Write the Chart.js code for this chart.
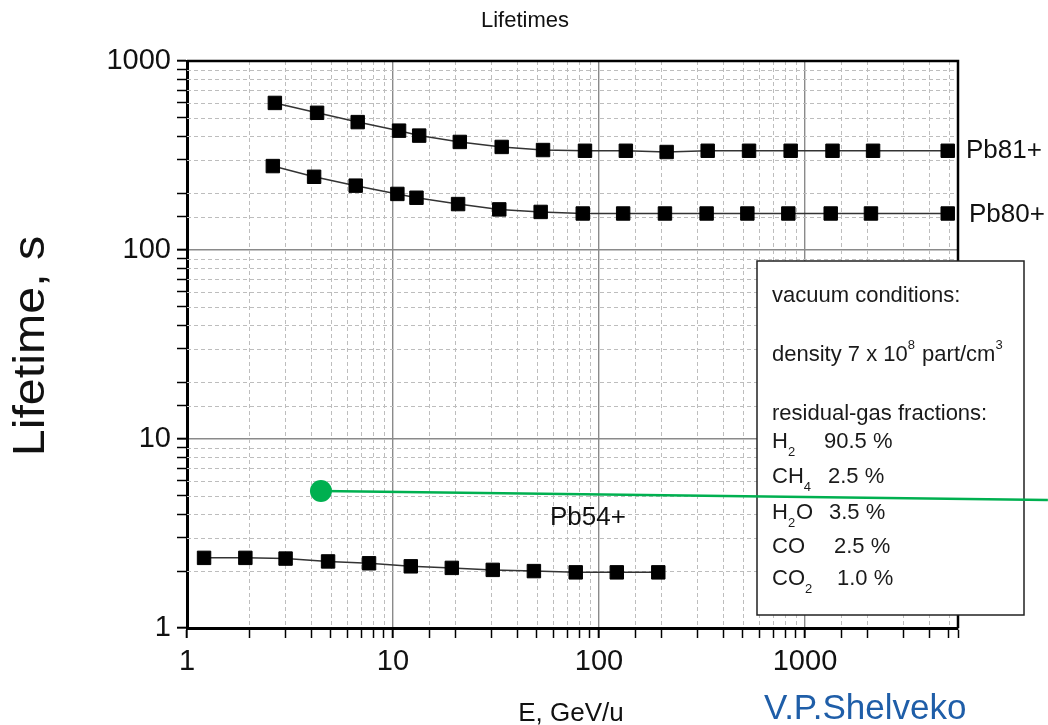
<!DOCTYPE html>
<html>
<head>
<meta charset="utf-8">
<script src="https://cdn.jsdelivr.net/npm/chart.js@4.4.1/dist/chart.umd.min.js"></script>
<style>
  html, body { margin: 0; padding: 0; background: #fff; }
  #wrap { position: relative; width: 1048px; height: 725px; }
</style>
</head>
<body>
<div id="wrap"><canvas id="myChart" width="1048" height="725"></canvas></div>
<script>
// beam energy (GeV/u) and lifetime (s)
const pb81_E = [2.67, 4.28, 6.74, 10.7, 13.4, 21.1, 33.7, 53.5, 85.5, 135, 213, 337, 535, 852, 1360, 2140, 4930];
const pb81_T = [600, 532, 475, 428, 403, 373, 351, 338, 335, 335, 330, 335, 335, 335, 335, 335, 335];

const pb80_E = [2.61, 4.14, 6.59, 10.5, 13.0, 20.7, 32.8, 52.1, 83.4, 131, 209, 333, 525, 830, 1333, 2090, 4930];
const pb80_T = [278, 244, 219, 198, 189, 175, 164, 159, 156, 156, 156, 156, 156, 156, 156, 156, 156];

const pb54_E = [1.21, 1.92, 3.01, 4.84, 7.65, 12.2, 19.3, 30.5, 48.3, 77.1, 122, 194];
const pb54_T = [2.35, 2.35, 2.33, 2.25, 2.20, 2.12, 2.08, 2.03, 2.00, 1.97, 1.97, 1.97];

// green marker + pointer line (second point runs off the canvas)
const mark_E = [4.47, 15100];
const mark_T = [5.31, 4.76];

const seriesNames = ['Pb81+', 'Pb80+', 'Pb54+'];
const xDecades = [1, 10, 100, 1000];
const yDecades = [1, 10, 100, 1000];

const FONT = "'Liberation Sans', Arial, Helvetica, sans-serif";

function pts(xs, ys) {
    return xs.map((x, i) => ({x: x, y: ys[i]}));
}

function isDecade(v) {
    if (!v) return false;
    const l = Math.log10(v);
    return Math.abs(l - Math.round(l)) < 1e-9;
}

function inList(list, v) {
    return list.some(d => Math.abs(d - v) < 1e-6 * d);
}

function txt(ctx, s, x, y, size, opts) {
    opts = opts || {};
    ctx.save();
    ctx.translate(x, y);
    if (opts.rot) ctx.rotate(opts.rot);
    ctx.scale(opts.sx || 1, 1);
    ctx.font = size + 'px ' + FONT;
    ctx.fillStyle = opts.color || '#111';
    ctx.textAlign = opts.align || 'left';
    ctx.textBaseline = 'alphabetic';
    ctx.fillText(s, 0, 0);
    ctx.restore();
}

// text with sub/superscripts, parts: {t, sub, sup, at}
function rich(ctx, x, y, parts) {
    let cx = x;
    ctx.save();
    ctx.fillStyle = '#1a1a1a';
    ctx.textBaseline = 'alphabetic';
    ctx.textAlign = 'left';
    parts.forEach(p => {
        if (p.at !== undefined) cx = p.at;
        const small = p.sub || p.sup;
        ctx.font = (small ? 13 : 22) + 'px ' + FONT;
        const dy = p.sub ? 8 : (p.sup ? -12 : 0);
        ctx.fillText(p.t, cx, y + dy);
        cx += ctx.measureText(p.t).width + (small ? 1 : 0);
    });
    ctx.restore();
}

const boxLines = [
    {y: 302, parts: [{t: 'vacuum conditions:'}]},
    {y: 361, parts: [{t: 'density 7 x 10'}, {t: '8', sup: 1}, {t: ' part/cm'}, {t: '3', sup: 1}]},
    {y: 420, parts: [{t: 'residual-gas fractions:'}]},
    {y: 448, parts: [{t: 'H'}, {t: '2', sub: 1}, {t: '90.5 %', at: 824}]},
    {y: 483, parts: [{t: 'CH'}, {t: '4', sub: 1}, {t: '2.5 %', at: 828}]},
    {y: 519, parts: [{t: 'H'}, {t: '2', sub: 1}, {t: 'O'}, {t: '3.5 %', at: 829}]},
    {y: 553, parts: [{t: 'CO'}, {t: '2.5 %', at: 834}]},
    {y: 585, parts: [{t: 'CO'}, {t: '2', sub: 1}, {t: '1.0 %', at: 837}]}
];

const framePlugin = {
    id: 'frameAndBox',
    beforeDatasetsDraw(chart) {
        const ctx = chart.ctx;
        const a = chart.chartArea;
        const sx = chart.scales.x, sy = chart.scales.y;

        // dashed minor grid
        ctx.save();
        ctx.strokeStyle = '#bdbdbd';
        ctx.lineWidth = 1;
        ctx.setLineDash([4, 3]);
        ctx.beginPath();
        sx.ticks.forEach(t => {
            if (isDecade(t.value)) return;
            const px = Math.round(sx.getPixelForValue(t.value)) + 0.5;
            ctx.moveTo(px, a.top);
            ctx.lineTo(px, a.bottom);
        });
        sy.ticks.forEach(t => {
            if (isDecade(t.value)) return;
            const py = Math.round(sy.getPixelForValue(t.value)) + 0.5;
            ctx.moveTo(a.left, py);
            ctx.lineTo(a.right, py);
        });
        ctx.stroke();
        ctx.setLineDash([]);

        ctx.strokeStyle = '#000';
        ctx.lineWidth = 2.5;
        ctx.beginPath();
        ctx.moveTo(a.left, a.top);
        ctx.lineTo(a.right, a.top);
        ctx.lineTo(a.right, a.bottom);
        ctx.stroke();

        // vacuum conditions box
        ctx.fillStyle = '#fff';
        ctx.fillRect(757, 261, 267, 354);
        ctx.lineWidth = 1.5;
        ctx.strokeStyle = '#222';
        ctx.strokeRect(757, 261, 267, 354);
        ctx.restore();
        boxLines.forEach(l => rich(ctx, 772, l.y, l.parts));
    },
    afterDraw(chart) {
        const ctx = chart.ctx;
        txt(ctx, 'Lifetimes', 525, 27, 22, {align: 'center'});
        txt(ctx, 'Lifetime, s', 44, 346, 44, {align: 'center', rot: -Math.PI / 2, sx: 1.1});
        txt(ctx, 'E, GeV/u', 571, 721, 26, {align: 'center'});
        txt(ctx, 'V.P.Shelveko', 764, 719, 35, {color: '#1f5ea8'});
        txt(ctx, seriesNames[0], 966, 158, 26);
        txt(ctx, seriesNames[1], 969, 222, 26);
        txt(ctx, seriesNames[2], 550, 525, 26);
    }
};

function seriesStyle(name, xs, ys) {
    return {
        label: name,
        data: pts(xs, ys),
        showLine: true,
        borderColor: '#333',
        borderWidth: 1.5,
        pointStyle: 'rect',
        pointRadius: 9.5,
        pointBackgroundColor: '#000',
        pointBorderColor: '#000',
        pointBorderWidth: 1,
        tension: 0
    };
}

const gridOpts = {
    // minor lines are drawn dashed by the plugin
    color: c => isDecade(c.tick && c.tick.value) ? '#8a8a8a' : 'rgba(0,0,0,0)',
    lineWidth: c => isDecade(c.tick && c.tick.value) ? 1.4 : 1,
    tickColor: '#000',
    tickLength: 10,
    tickWidth: c => isDecade(c.tick && c.tick.value) ? 2 : 1.5
};
const borderOpts = {color: '#000', width: 3};

var ctx = document.getElementById('myChart').getContext('2d');
var myChart = new Chart(ctx, {
    type: 'scatter',
    data: {
        datasets: [
            seriesStyle(seriesNames[0], pb81_E, pb81_T),
            seriesStyle(seriesNames[1], pb80_E, pb80_T),
            seriesStyle(seriesNames[2], pb54_E, pb54_T),
            {
                label: 'marker',
                data: pts(mark_E, mark_T),
                showLine: true,
                borderColor: '#00b050',
                borderWidth: 2.5,
                pointRadius: [11, 0],
                pointBackgroundColor: '#00b050',
                pointBorderWidth: 0,
                clip: false
            }
        ]
    },
    options: {
        responsive: false,
        devicePixelRatio: 1,
        animation: false,
        layout: {padding: {left: 0, top: 61, right: 90, bottom: 0}},
        plugins: {legend: {display: false}, tooltip: {enabled: false}, title: {display: false}},
        scales: {
            x: {
                type: 'logarithmic',
                min: 1,
                max: 5530,
                afterFit: s => { s.height = 97; },
                ticks: {
                    autoSkip: false,
                    maxRotation: 0,
                    padding: 7,
                    color: '#111',
                    font: {family: FONT, size: 29},
                    callback: v => inList(xDecades, v) ? String(v) : ''
                },
                grid: gridOpts,
                border: borderOpts
            },
            y: {
                type: 'logarithmic',
                min: 1,
                max: 1000,
                afterFit: s => { s.width = 187; },
                ticks: {
                    autoSkip: false,
                    padding: 6,
                    color: '#111',
                    font: {family: FONT, size: 29},
                    callback: v => inList(yDecades, v) ? String(v) : ''
                },
                grid: gridOpts,
                border: borderOpts
            }
        }
    },
    plugins: [framePlugin]
});
</script>
</body>
</html>
